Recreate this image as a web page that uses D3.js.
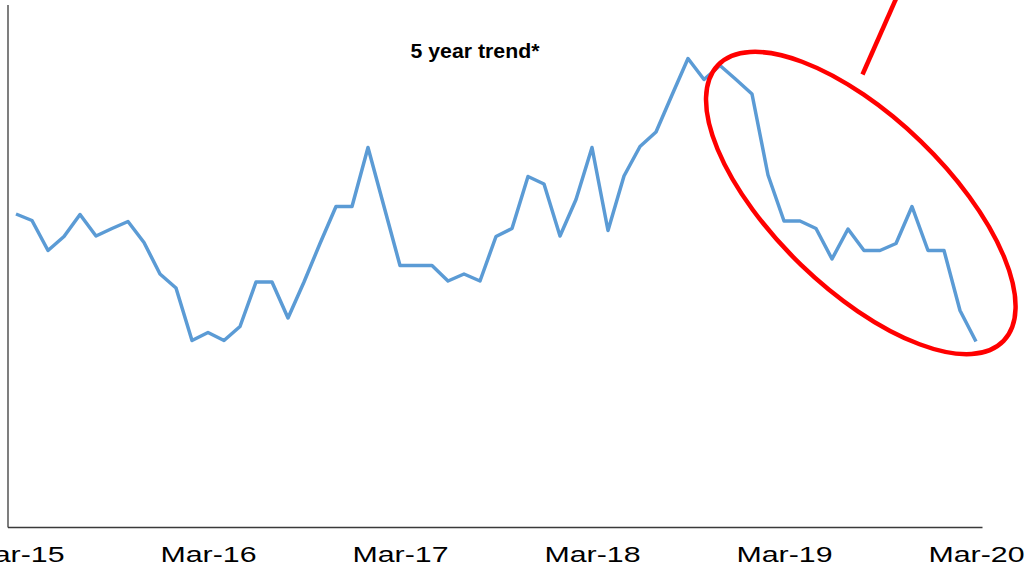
<!DOCTYPE html>
<html>
<head>
<meta charset="utf-8">
<script src="https://cdn.jsdelivr.net/npm/d3@7"></script>
<style>
  html, body { margin: 0; padding: 0; background: #fff; }
  svg { display: block; }
</style>
</head>
<body>
<svg id="chart" width="1028" height="567"></svg>
<script>
// ---- data ----
const months = [
  "Mar-15","Apr-15","May-15","Jun-15","Jul-15","Aug-15","Sep-15","Oct-15","Nov-15","Dec-15","Jan-16","Feb-16",
  "Mar-16","Apr-16","May-16","Jun-16","Jul-16","Aug-16","Sep-16","Oct-16","Nov-16","Dec-16","Jan-17","Feb-17",
  "Mar-17","Apr-17","May-17","Jun-17","Jul-17","Aug-17","Sep-17","Oct-17","Nov-17","Dec-17","Jan-18","Feb-18",
  "Mar-18","Apr-18","May-18","Jun-18","Jul-18","Aug-18","Sep-18","Oct-18","Nov-18","Dec-18","Jan-19","Feb-19",
  "Mar-19","Apr-19","May-19","Jun-19","Jul-19","Aug-19","Sep-19","Oct-19","Nov-19","Dec-19","Jan-20","Feb-20",
  "Mar-20"
];
const trendValues = [
  62.6, 61.3, 55.3, 58.1, 62.5, 58.2, 59.7, 61.1, 56.9, 50.6, 47.8, 37.3,
  38.9, 37.3, 40.1, 49.0, 49.0, 41.8, 49.0, 56.7, 64.1, 64.1, 75.9, 64.1,
  52.3, 52.3, 52.3, 49.2, 50.6, 49.2, 58.1, 59.7, 70.1, 68.6, 58.2, 65.5,
  75.9, 59.3, 70.2, 76.1, 79.0, 86.4, 93.7, 89.5, 92.3, 89.5, 86.6, 70.4,
  61.2, 61.2, 59.7, 53.6, 59.6, 55.3, 55.3, 56.7, 64.1, 55.3, 55.3, 43.3,
  37.1
];
const tickLabels = ["Mar-15","Mar-16","Mar-17","Mar-18","Mar-19","Mar-20"];
const title = "5 year trend*";
// annotation (in data units: month index, value)
const highlight = { centerIndex: 52.8, centerValue: 64.8 };

// ---- layout ----
const svg = d3.select("#chart");
const x = d3.scaleLinear().domain([0, months.length - 1]).range([16, 976]);
const y = d3.scaleLinear().domain([0, 100]).range([527, 27]);

// axes lines
svg.append("line")
  .attr("x1", 8).attr("x2", 8).attr("y1", 5).attr("y2", 527.5)
  .attr("stroke", "#3a3a3a").attr("stroke-width", 1.3);

const xAxis = d3.axisBottom(x)
  .tickValues(tickLabels.map(t => months.indexOf(t)))
  .tickFormat(i => months[i])
  .tickSize(0).tickSizeOuter(0);

const gx = svg.append("g").attr("transform", "translate(0,527.5)").call(xAxis);
gx.select(".domain").remove();
gx.selectAll("text")
  .attr("y", 34).attr("dy", 0)
  .attr("font-family", "Liberation Sans, Arial, sans-serif")
  .attr("font-size", 22)
  .attr("fill", "#000")
  .attr("textLength", 96)
  .attr("lengthAdjust", "spacingAndGlyphs");

svg.append("line")
  .attr("x1", 8).attr("x2", 982.5).attr("y1", 527.5).attr("y2", 527.5)
  .attr("stroke", "#3a3a3a").attr("stroke-width", 1.3);

// line
const line = d3.line()
  .x((d, i) => x(i))
  .y(d => y(d));

svg.append("path")
  .datum(trendValues)
  .attr("d", line)
  .attr("fill", "none")
  .attr("stroke", "#5B9BD5")
  .attr("stroke-width", 3.5)
  .attr("stroke-linejoin", "round");

// title
svg.append("text")
  .attr("x", 475).attr("y", 57.5)
  .attr("text-anchor", "middle")
  .attr("font-family", "Liberation Sans, Arial, sans-serif")
  .attr("font-weight", "bold")
  .attr("font-size", 19.5)
  .attr("textLength", 129)
  .attr("lengthAdjust", "spacingAndGlyphs")
  .text(title);

// annotation ellipse
const cx = x(highlight.centerIndex), cy = y(highlight.centerValue);
svg.append("ellipse")
  .attr("cx", 0).attr("cy", 0)
  .attr("rx", 198.5).attr("ry", 86)
  .attr("transform", `translate(${cx},${cy}) rotate(44)`)
  .attr("fill", "none")
  .attr("stroke", "#FF0000")
  .attr("stroke-width", 4.5);

// pointer line
svg.append("line")
  .attr("x1", 862.5).attr("y1", 74.5)
  .attr("x2", 899).attr("y2", -8)
  .attr("stroke", "#FF0000")
  .attr("stroke-width", 4.5);
</script>
</body>
</html>
